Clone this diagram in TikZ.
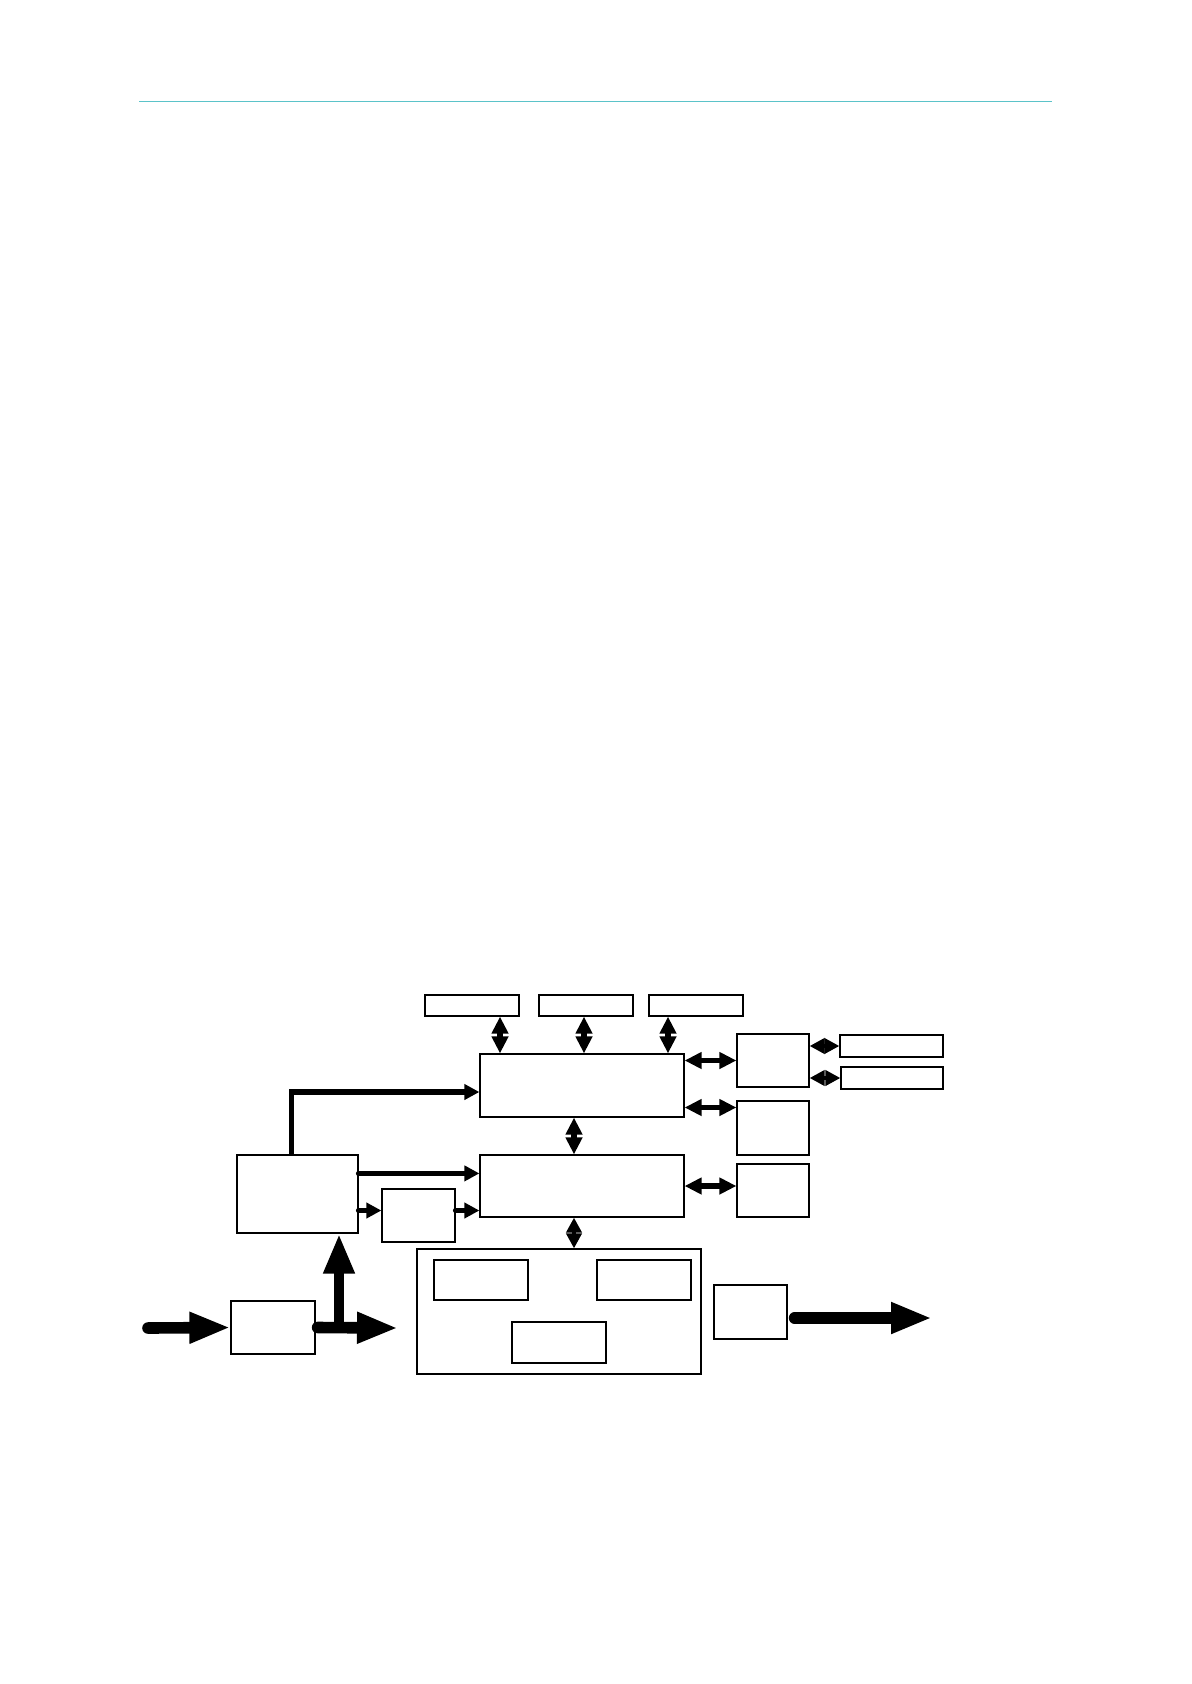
\documentclass[tikz,border=0pt]{standalone}
\usepackage{xcolor}
\usepackage{tikz}
\usetikzlibrary{arrows.meta,positioning,calc,fit}
\definecolor{hdrTeal}{HTML}{5BC3C9}

\begin{document}
\begin{tikzpicture}[x=0.5pt,y=-0.5pt,
  blk/.style={draw,line width=0.6pt,fill=white,inner sep=0pt},
  dbl/.style={line width=2.8pt,{Triangle[length=8.5pt,width=8pt]}-{Triangle[length=8.5pt,width=8pt]}},
  sdbl/.style={line width=2.4pt,{Triangle[length=7.5pt,width=7.5pt]}-{Triangle[length=7.5pt,width=7.5pt]}},
  arr/.style={line width=2.7pt,line cap=round,-{Triangle[length=7.5pt,width=7.5pt]}},
  bigarr/.style={line width=5.8pt,line cap=round,-{Triangle[length=20.5pt,width=14.5pt]}},
  uparr/.style={line width=5pt,-{Triangle[length=20pt,width=14.5pt]}}]
  \useasboundingbox (0,0) rectangle (1191,1684);
% --- header rule ---
  \draw[hdrTeal,line width=0.8pt] (139,101.5) -- (1052,101.5);
% --- blocks ---
  \node[blk,fit={(425,995) (519,1016)}] (t1) {};
  \node[blk,fit={(539,995) (633,1016)}] (t2) {};
  \node[blk,fit={(649,995) (743,1016)}] (t3) {};
  \node[blk,fit={(480,1054) (684,1117)}] (A) {};
  \node[blk,fit={(480,1155) (684,1217)}] (B) {};
  \node[blk,fit={(237,1155) (358,1233)}] (C) {};
  \node[blk,fit={(382,1189) (455,1242)}] (D) {};
  \node[blk,fit={(737,1034) (809,1087)}] (E) {};
  \node[blk,fit={(737,1101) (809,1155)}] (F) {};
  \node[blk,fit={(737,1164) (809,1217)}] (G) {};
  \node[blk,fit={(840,1035) (943,1057)}] (H) {};
  \node[blk,fit={(841,1067) (943,1089)}] (I) {};
  \node[blk,fit={(417,1249) (701,1374)}] (K) {};
  \node[blk,fit={(434,1260) (528,1300)}] (k1) {};
  \node[blk,fit={(597,1260) (691,1300)}] (k2) {};
  \node[blk,fit={(512,1322) (606,1363)}] (k3) {};
  \node[blk,fit={(231,1301) (315,1354)}] (L) {};
  \node[blk,fit={(714,1285) (787,1339)}] (M) {};
% --- bus arrows ---
  \draw[dbl] ([xshift=14pt]t1.south) coordinate (p1) -- (p1 |- A.north);
  \draw[dbl] ([xshift=-1pt]t2.south) coordinate (p2) -- (p2 |- A.north);
  \draw[dbl] ([xshift=-14pt]t3.south) coordinate (p3) -- (p3 |- A.north);
  \draw[dbl] ([xshift=-4pt]A.south) coordinate (p4) -- (p4 |- B.north);
  \draw[sdbl] ([xshift=-4pt]B.south) coordinate (p5) -- (p5 |- K.north);
  \draw[dbl] (E.west -| A.east) -- (E.west);
  \draw[dbl] ([yshift=-11pt]A.east) coordinate (p6) -- (p6 -| F.west);
  \draw[dbl] (B.east) -- (B.east -| G.west);
  \draw[sdbl] (H.west -| E.east) -- (H.west);
  \draw[sdbl] (I.west -| E.east) -- (I.west);
% --- signal arrows ---
  \draw[arr,line cap=butt] ([xshift=-3pt]C.north) coordinate (p7) |- ([yshift=-3.25pt]A.west);
  \coordinate (p8) at ([yshift=6.3pt]B.west);
  \draw[arr] (p8 -| C.east) -- (p8);
  \coordinate (p9) at ([yshift=2.5pt]D.west);
  \draw[arr] (p9 -| C.east) -- (p9);
  \draw[arr] (p9 -| D.east) -- (p9 -| B.west);
% --- power arrows ---
  \coordinate (in) at (148,1328);
  \coordinate (lout) at (398,1328);
  \coordinate (up) at (339,1330);
  \coordinate (mout) at (932,1318);
  \draw[bigarr] (in) -- (L.west);
  \draw[bigarr] ([xshift=1pt]L.east) -- (lout);
  \draw[uparr] (up) -- (up |- C.south);
  \draw[bigarr] ([xshift=3.5pt]M.east |- mout) -- (mout);
\end{tikzpicture}
\end{document}
